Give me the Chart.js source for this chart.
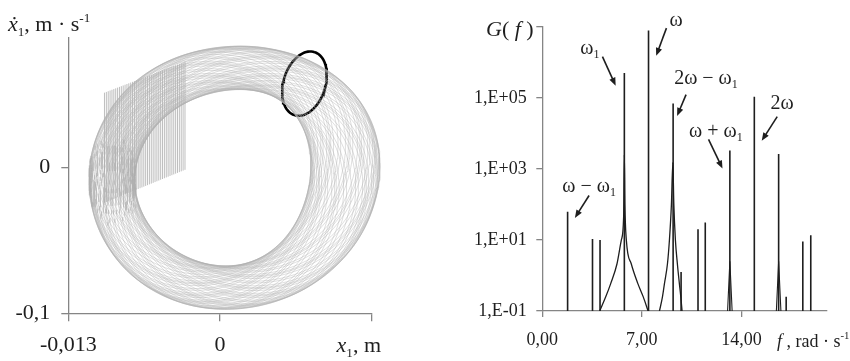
<!DOCTYPE html>
<html>
<head>
<meta charset="utf-8">
<script src="https://cdn.jsdelivr.net/npm/chart.js@4.4.0/dist/chart.umd.min.js"></script>
<style>
    html, body { margin: 0; padding: 0; background: #fff; }
    #wrap { position: relative; width: 850px; height: 361px; }
    #phaseChart { position: absolute; left: 0; top: 0; }
    #specChart { position: absolute; left: 430px; top: 0; }
</style>
</head>
<body>
<div id="wrap">
    <canvas id="phaseChart" width="430" height="361"></canvas>
    <canvas id="specChart" width="420" height="361"></canvas>
</div>
<script>
// --- Left panel: phase portrait (x1, dx1/dt) ---
const phaseXTicks = [-0.013, 0, 0.013];
const phaseXLabels = ['-0,013', '0', ''];
const phaseYTicks = [-0.1, 0];
const phaseYLabels = ['-0,1', '0'];
// torus: centre, mean radii, tube shift, radius swell
const ringCenter = [0.00049, -0.0086];
const ringRadius = [0.00975, 0.0738];
const tubeShift = [0.00246, 0.0149];
const tubeGrow = 0.00049;
// upper-right bulge of the ring: amount, angle, angular width
const ringBulge = [0.12, 0.75, 0.75];
const loopCount = 66;
// transient block at upper left: x span, top edge, bottom edge
const transientX = [-0.0099, -0.0030];
const transientTop = [0.0513, 0.0726];
const transientBottom = [-0.0242, -0.0016];
const transientCount = 44;
// black section ellipse
const sectionCenter = [0.00724, 0.0575];
const sectionCos = [0.00087, 0.0216];
const sectionSin = [0.00171, -0.0045];

// --- Right panel: spectrum G(f) ---
const spikeFreq = [1.78, 3.53, 4.06, 5.77, 7.47, 9.20, 9.76, 10.95, 11.46, 13.19, 14.91, 16.62, 17.15, 18.32, 18.88];
const spikeAmp = [62, 10.7, 10, 5.0e5, 7.8e6, 6.9e4, 1.26, 20, 31, 3.3e3, 1.07e5, 2.6e3, 0.25, 9, 13.5];
const peak1Freq = [4.04, 4.46, 4.81, 5.25, 5.56, 5.72, 5.77, 5.81, 5.91, 6.26, 6.72, 7.10, 7.44];
const peak1Amp = [0.1, 0.25, 0.59, 2.1, 10, 45, 2500, 100, 10, 2.1, 0.59, 0.25, 0.1];
const peak2Freq = [8.24, 8.45, 8.59, 8.80, 8.94, 9.08, 9.18, 9.25, 9.36, 9.50, 9.64, 9.74, 9.83];
const peak2Amp = [0.1, 0.25, 0.59, 2.1, 10, 100, 1500, 100, 10, 2.1, 0.59, 0.25, 0.1];
const cuspFreq = [[13.03, 13.19, 13.35], [16.46, 16.62, 16.78]];
const cuspAmp = [[0.1, 2.5, 0.1], [0.1, 2.5, 0.1]];
const specXTicks = [0, 7, 14, 20];
const specXLabels = ['0,00', '7,00', '14,00', ''];
const specYTicks = [0.1, 10, 1000, 1e5, 1e7];
const specYLabels = ['1,E-01', '1,E+01', '1,E+03', '1,E+05', ''];

const SERIF = '"Liberation Serif", "Times New Roman", serif';
const AXIS = '#858585';
const INK = '#1e1e1e';

// draw text made of parts: {t, i: italic, s: 'sub' | 'sup'}
function richText(ctx, parts, x, y, size, align) {
    const fontFor = p => (p.i ? 'italic ' : '') + (p.s ? size * 0.6 : size) + 'px ' + SERIF;
    let w = 0;
    parts.forEach(p => { ctx.font = fontFor(p); w += ctx.measureText(p.t).width; });
    let cx = align === 'center' ? x - w / 2 : (align === 'right' ? x - w : x);
    ctx.save();
    ctx.fillStyle = INK;
    ctx.textAlign = 'left';
    ctx.textBaseline = 'alphabetic';
    parts.forEach(p => {
        ctx.font = fontFor(p);
        const dy = p.s === 'sub' ? size * 0.22 : (p.s === 'sup' ? -size * 0.42 : 0);
        ctx.fillText(p.t, cx, y + dy);
        cx += ctx.measureText(p.t).width;
    });
    ctx.restore();
}

function arrow(ctx, x1, y1, x2, y2) {
    const a = Math.atan2(y2 - y1, x2 - x1);
    const len = 8, half = 3.2;
    ctx.save();
    ctx.strokeStyle = INK;
    ctx.fillStyle = INK;
    ctx.lineWidth = 1.6;
    ctx.beginPath();
    ctx.moveTo(x1, y1);
    ctx.lineTo(x2 - Math.cos(a) * len * 0.7, y2 - Math.sin(a) * len * 0.7);
    ctx.stroke();
    ctx.beginPath();
    ctx.moveTo(x2, y2);
    ctx.lineTo(x2 - Math.cos(a) * len - Math.sin(a) * half, y2 - Math.sin(a) * len + Math.cos(a) * half);
    ctx.lineTo(x2 - Math.cos(a) * len + Math.sin(a) * half, y2 - Math.sin(a) * len - Math.cos(a) * half);
    ctx.closePath();
    ctx.fill();
    ctx.restore();
}

// --- build phase portrait datasets ---
const phaseSets = [];
for (let k = 0; k < loopCount; k++) {
    const phi = 2 * Math.PI * ((k * 0.618034) % 1);
    const pts = [];
    for (let j = 0; j <= 160; j++) {
        const th = 2 * Math.PI * j / 160;
        let d = th - ringBulge[1];
        if (d > Math.PI) d -= 2 * Math.PI;
        const s = 1 + ringBulge[0] * Math.exp(-Math.pow(d / ringBulge[2], 2));
        pts.push({
            x: ringCenter[0] + tubeShift[0] * Math.cos(phi) + s * (ringRadius[0] + tubeGrow * Math.cos(phi)) * Math.cos(th),
            y: ringCenter[1] + tubeShift[1] * Math.sin(phi) + s * ringRadius[1] * Math.sin(th)
        });
    }
    phaseSets.push({ data: pts, borderColor: 'rgba(175,175,175,0.5)', borderWidth: 0.8 });
}
for (let k = 0; k < transientCount; k++) {
    const u = k / (transientCount - 1);
    const x = transientX[0] + (transientX[1] - transientX[0]) * u;
    phaseSets.push({
        data: [
            { x: x, y: transientBottom[0] + (transientBottom[1] - transientBottom[0]) * u },
            { x: x, y: transientTop[0] + (transientTop[1] - transientTop[0]) * u }
        ],
        borderColor: 'rgba(170,170,170,0.85)', borderWidth: 0.9
    });
}
const sectionPts = [];
for (let j = 0; j <= 80; j++) {
    const t = 2 * Math.PI * j / 80;
    sectionPts.push({
        x: sectionCenter[0] + sectionCos[0] * Math.cos(t) + sectionSin[0] * Math.sin(t),
        y: sectionCenter[1] + sectionCos[1] * Math.cos(t) + sectionSin[1] * Math.sin(t)
    });
}
phaseSets.push({ data: sectionPts, borderColor: '#000', borderWidth: 2.6 });

const phaseLabels = {
    id: 'phaseLabels',
    afterDraw(chart) {
        const ctx = chart.ctx;
        richText(ctx, [{ t: 'x\u0307', i: true }, { t: '1', s: 'sub' }, { t: ', m \u00b7 s' }, { t: '-1', s: 'sup' }], 8, 31, 22, 'left');
        richText(ctx, [{ t: 'x', i: true }, { t: '1', s: 'sub' }, { t: ', m' }], 381, 352, 22, 'right');
    }
};

new Chart(document.getElementById('phaseChart').getContext('2d'), {
    type: 'scatter',
    data: { datasets: phaseSets.map(d => Object.assign({ showLine: true, pointRadius: 0, clip: false, tension: 0 }, d)) },
    options: {
        responsive: false,
        animation: false,
        layout: { padding: { left: 0, top: 37.7, right: 58.3, bottom: 0 } },
        plugins: { legend: { display: false }, tooltip: { enabled: false } },
        scales: {
            x: {
                type: 'linear', min: -0.013, max: 0.013,
                afterBuildTicks: axis => { axis.ticks = phaseXTicks.map(v => ({ value: v })); },
                afterFit: axis => { axis.height = 47.7; },
                border: { display: true, color: AXIS, width: 1.3 },
                grid: { drawOnChartArea: false, drawTicks: true, tickLength: 8, color: AXIS, lineWidth: 1.3 },
                ticks: {
                    autoSkip: false, maxRotation: 0, padding: 11, color: INK,
                    font: { family: SERIF, size: 22 },
                    callback: (v, i) => phaseXLabels[i]
                }
            },
            y: {
                type: 'linear', min: -0.1, max: 0.089,
                afterBuildTicks: axis => { axis.ticks = phaseYTicks.map(v => ({ value: v })); },
                afterFit: axis => { axis.width = 68.3; },
                border: { display: true, color: AXIS, width: 1.3 },
                grid: { drawOnChartArea: false, drawTicks: true, tickLength: 7, color: AXIS, lineWidth: 1.3 },
                ticks: {
                    autoSkip: false, padding: 11, color: INK,
                    font: { family: SERIF, size: 22 },
                    callback: (v, i) => phaseYLabels[i]
                }
            }
        }
    },
    plugins: [phaseLabels]
});

// --- build spectrum datasets ---
const specSets = [];
spikeFreq.forEach((f, i) => {
    specSets.push({ data: [{ x: f, y: 0.1 }, { x: f, y: spikeAmp[i] }], borderWidth: 1.6 });
});
specSets.push({ data: peak1Freq.map((f, i) => ({ x: f, y: peak1Amp[i] })), borderWidth: 1.3, cubicInterpolationMode: 'monotone' });
specSets.push({ data: peak2Freq.map((f, i) => ({ x: f, y: peak2Amp[i] })), borderWidth: 1.3, cubicInterpolationMode: 'monotone' });
cuspFreq.forEach((fs, k) => {
    specSets.push({ data: fs.map((f, i) => ({ x: f, y: cuspAmp[k][i] })), borderWidth: 1.1 });
});

const specNotes = [
    { parts: [{ t: '\u03c9' }, { t: '1', s: 'sub' }], at: [3.34, 6.41], from: [4.23, 6.16], to: [5.16, 5.34] },
    { parts: [{ t: '\u03c9' }], at: [9.41, 7.19], from: [8.73, 6.96], to: [8.01, 6.18] },
    { parts: [{ t: '2\u03c9 \u2212 \u03c9' }, { t: '1', s: 'sub' }], at: [11.51, 5.57], from: [10.11, 5.09], to: [9.48, 4.49] },
    { parts: [{ t: '\u03c9 + \u03c9' }, { t: '1', s: 'sub' }], at: [12.21, 4.07], from: [11.69, 3.83], to: [12.67, 3.01] },
    { parts: [{ t: '2\u03c9' }], at: [16.87, 4.86], from: [16.52, 4.47], to: [15.43, 3.79] },
    { parts: [{ t: '\u03c9 \u2212 \u03c9' }, { t: '1', s: 'sub' }], at: [3.29, 2.53], from: [3.29, 2.25], to: [2.29, 1.62] }
];

const specLabels = {
    id: 'specLabels',
    afterDraw(chart) {
        const ctx = chart.ctx;
        const xs = chart.scales.x, ys = chart.scales.y;
        const px = f => xs.getPixelForValue(f);
        const py = lg => ys.getPixelForValue(Math.pow(10, lg));
        specNotes.forEach(n => {
            richText(ctx, n.parts, px(n.at[0]), py(n.at[1]) + 6, 20, 'center');
            arrow(ctx, px(n.from[0]), py(n.from[1]), px(n.to[0]), py(n.to[1]));
        });
        richText(ctx, [{ t: 'G', i: true }, { t: '( ' }, { t: 'f', i: true }, { t: ' )' }], 56, 36, 22, 'left');
        richText(ctx, [{ t: 'f', i: true }, { t: ' , rad \u00b7 s' }, { t: '-1', s: 'sup' }], 347, 347, 18, 'left');
    }
};

new Chart(document.getElementById('specChart').getContext('2d'), {
    type: 'scatter',
    data: { datasets: specSets.map(d => Object.assign({ showLine: true, pointRadius: 0, borderColor: INK, tension: 0 }, d)) },
    options: {
        responsive: false,
        animation: false,
        layout: { padding: { left: 0, top: 26.7, right: 23.3, bottom: 0 } },
        plugins: { legend: { display: false }, tooltip: { enabled: false } },
        scales: {
            x: {
                type: 'linear', min: 0, max: 20,
                afterBuildTicks: axis => { axis.ticks = specXTicks.map(v => ({ value: v })); },
                afterFit: axis => { axis.height = 50; },
                border: { display: true, color: AXIS, width: 1.3 },
                grid: {
                    drawOnChartArea: false, drawTicks: true, tickLength: 6, lineWidth: 1.3,
                    color: c => (c.tick && c.tick.value === 20) ? 'rgba(0,0,0,0)' : AXIS
                },
                ticks: {
                    autoSkip: false, maxRotation: 0, padding: 12, color: INK,
                    font: { family: SERIF, size: 18 },
                    callback: (v, i) => specXLabels[i]
                }
            },
            y: {
                type: 'logarithmic', min: 0.1, max: 1e7,
                afterBuildTicks: axis => { axis.ticks = specYTicks.map(v => ({ value: v })); },
                afterFit: axis => { axis.width = 112.3; },
                border: { display: true, color: AXIS, width: 1.3 },
                grid: { drawOnChartArea: false, drawTicks: true, tickLength: 6, color: AXIS, lineWidth: 1.3 },
                ticks: {
                    autoSkip: false, padding: 9.6, color: INK,
                    font: { family: SERIF, size: 18 },
                    callback: (v, i) => specYLabels[i]
                }
            }
        }
    },
    plugins: [specLabels]
});
</script>
</body>
</html>
